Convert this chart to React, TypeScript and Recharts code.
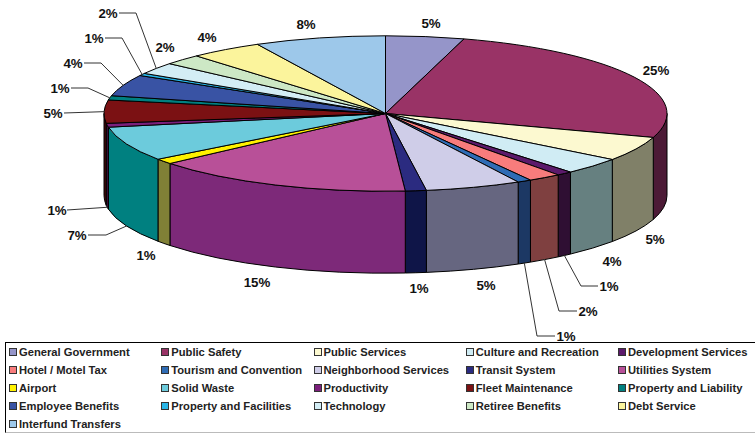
import React from 'react';
import { PieChart, Pie, Legend } from 'recharts';

// Budget share by fund, clockwise from twelve o'clock.
const categories = [
  'General Government', 'Public Safety', 'Public Services', 'Culture and Recreation', 'Development Services',
  'Hotel / Motel Tax', 'Tourism and Convention', 'Neighborhood Services', 'Transit System', 'Utilities System',
  'Airport', 'Solid Waste', 'Productivity', 'Fleet Maintenance', 'Property and Liability',
  'Employee Benefits', 'Property and Facilities', 'Technology', 'Retiree Benefits', 'Debt Service',
  'Interfund Transfers',
];
const shares = [
  4.5, 25.49, 5.1, 3.5, 0.9,
  1.9, 0.8, 5.49, 1.2, 15.0,
  1.1, 7.2, 0.8, 4.8, 0.9,
  4.45, 0.5, 2.45, 2.2, 4.2,
  7.52,
];
const topColours = [
  '#9595C9', '#993366', '#FCF9D0', '#D0ECF4', '#5C1A6B',
  '#F87C7C', '#2F6CB5', '#CFCDE8', '#2B2B80', '#B85098',
  '#FFF200', '#6CCBDC', '#7B1F7B', '#7B1113', '#008080',
  '#3953A4', '#29B6E8', '#D3EDF5', '#CDE8C5', '#FBF49C',
  '#9DC8EA',
];
const sideColours = [
  '#4B4B65', '#4C1A36', '#808068', '#668080', '#2F0F33',
  '#7F4040', '#1C3864', '#666680', '#0F1548', '#7D2979',
  '#808036', '#008080', '#3D103D', '#400808', '#004040',
  '#1C2A52', '#145B74', '#69777A', '#677462', '#7E7A4E',
  '#4E6475',
];

const topRows = categories.map((name, i) => ({ name, share: shares[i], fill: topColours[i] }));
const sideRows = categories.map((name, i) => ({ name, share: shares[i], fill: sideColours[i] }));

// Projection of the tilted disc.
const CX = 385.5;
const CY = 113.5;
const RX = 281.5;
const RY = 77.7;
const DEPTH = 82;
const RAD = Math.PI / 180;

const rim = (cx: number, cy: number, rx: number, a: number): [number, number] => [
  cx + rx * Math.cos(a * RAD),
  cy - rx * (RY / RX) * Math.sin(a * RAD),
];

const TopFace = (p: any) => {
  const ry = p.outerRadius * (RY / RX);
  const [x1, y1] = rim(p.cx, p.cy, p.outerRadius, p.startAngle);
  const [x2, y2] = rim(p.cx, p.cy, p.outerRadius, p.endAngle);
  const large = p.startAngle - p.endAngle > 180 ? 1 : 0;
  const d = `M${p.cx},${p.cy} L${x1},${y1} A${p.outerRadius},${ry} 0 ${large} 1 ${x2},${y2} Z`;
  return <path d={d} fill={p.fill} stroke="#000" strokeWidth={1} strokeLinejoin="round" />;
};

const SideWall = (p: any) => {
  const from = Math.min(p.startAngle, 0);
  const to = Math.max(p.endAngle, -180);
  if (from <= to) return <g />;
  const ry = p.outerRadius * (RY / RX);
  const [x1, y1] = rim(p.cx, p.cy, p.outerRadius, from);
  const [x2, y2] = rim(p.cx, p.cy, p.outerRadius, to);
  const d =
    `M${x1},${y1} A${p.outerRadius},${ry} 0 0 1 ${x2},${y2} ` +
    `L${x2},${y2 + DEPTH} A${p.outerRadius},${ry} 0 0 0 ${x1},${y1 + DEPTH} Z`;
  return <path d={d} fill={p.fill} stroke="#000" strokeWidth={1} strokeLinejoin="round" />;
};

// Where each percentage sits, and the bend of its leader where it has one.
const labelSpots: [number, number][] = [
  [431, 23], [656, 70], [655, 239], [612, 261], [609, 286],
  [588, 311], [566, 336], [486, 285], [419, 288], [257, 282],
  [146, 255], [77, 235], [57, 210], [53, 113], [60, 88],
  [73, 63], [94, 38], [108, 13], [165, 47], [207, 37],
  [306, 24],
];
const leaders: Record<number, { elbow?: [number, number]; end: [number, number] }> = {
  4: { elbow: [581, 286], end: [598, 286] },
  5: { elbow: [559, 311], end: [577, 311] },
  6: { elbow: [537, 336], end: [555, 336] },
  11: { elbow: [106, 235], end: [88, 235] },
  12: { end: [67, 210] },
  13: { end: [64, 113] },
  14: { elbow: [88, 88], end: [71, 88] },
  15: { elbow: [101, 63], end: [84, 63] },
  16: { elbow: [122, 38], end: [105, 38] },
  17: { elbow: [136, 13], end: [119, 13] },
};

const PercentLabel = (p: any) => {
  const i: number = p.index;
  const [lx, ly] = labelSpots[i];
  const leader = leaders[i];
  let line = null;
  if (leader) {
    const [sx, sy0] = rim(p.cx, p.cy, p.outerRadius, p.midAngle);
    const sy = Math.sin(p.midAngle * RAD) < 0 ? sy0 + DEPTH : sy0;
    const pts = [[sx, sy], ...(leader.elbow ? [leader.elbow] : []), leader.end];
    line = <polyline points={pts.map((q) => q.join(',')).join(' ')} fill="none" stroke="#333" strokeWidth={1} />;
  }
  return (
    <g>
      {line}
      <text
        x={lx}
        y={ly}
        textAnchor="middle"
        dominantBaseline="central"
        fontFamily="'Liberation Sans', Arial, sans-serif"
        fontWeight={700}
        fontSize={13.3}
        fill="#111"
      >
        {`${Math.round(shares[i])}%`}
      </text>
    </g>
  );
};

const LegendBox = ({ payload }: any) => {
  // Both pies feed the legend; the top faces come last and carry the swatch colours.
  const byName = new Map<string, any>();
  (payload || []).forEach((item: any) => byName.set(item.value, item));
  return (
    <div
      style={{
        position: 'relative',
        width: 760,
        height: 91,
        boxSizing: 'border-box',
        borderTop: '1px solid #000',
        borderLeft: '1px solid #000',
        borderBottom: '1px solid #bbb',
      }}
    >
      {categories.map((name, i) => (
        <div
          key={name}
          style={{
            position: 'absolute',
            left: 3 + (i % 5) * 152.25,
            top: Math.floor(i / 5) * 18.1,
            height: 18,
            display: 'flex',
            alignItems: 'center',
            whiteSpace: 'nowrap',
            fontFamily: "'Liberation Sans', Arial, sans-serif",
            fontWeight: 700,
            fontSize: 11.2,
            color: '#222',
          }}
        >
          <span
            style={{
              display: 'inline-block',
              boxSizing: 'border-box',
              width: 8,
              height: 8,
              marginRight: 2,
              border: '1px solid #333',
              background: byName.get(name)?.color,
            }}
          />
          {name}
        </div>
      ))}
    </div>
  );
};

export default function App() {
  return (
    <div style={{ position: 'absolute', left: 0, top: 0, width: 755, height: 434, overflow: 'hidden', background: '#fff' }}>
      <PieChart width={755} height={434} margin={{ top: 0, right: 0, bottom: 0, left: 0 }}>
        <Pie
          data={sideRows}
          dataKey="share"
          nameKey="name"
          cx={CX}
          cy={CY}
          outerRadius={RX}
          startAngle={90}
          endAngle={-270}
          legendType="none"
          isAnimationActive={false}
          shape={SideWall}
        />
        <Pie
          data={topRows}
          dataKey="share"
          nameKey="name"
          cx={CX}
          cy={CY}
          outerRadius={RX}
          startAngle={90}
          endAngle={-270}
          isAnimationActive={false}
          shape={TopFace}
          label={PercentLabel}
          labelLine={false}
        />
        <Legend
          content={LegendBox}
          itemSorter={null}
          wrapperStyle={{ position: 'absolute', left: 5, top: 342, width: 760, height: 92, margin: 0 }}
        />
      </PieChart>
    </div>
  );
}
